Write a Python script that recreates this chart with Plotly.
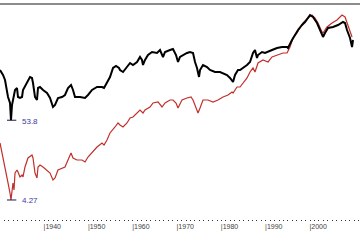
import math
import plotly.graph_objects as go

# Real (inflation-adjusted) index, black line
black_years = [1930.00, 1930.68, 1931.13, 1931.81, 1932.26, 1932.48, 1932.71, 1932.93, 1933.39, 1933.84,
               1934.06, 1934.51, 1934.97, 1935.19, 1936.09, 1936.77, 1937.22, 1937.45, 1937.90, 1938.35,
               1938.58, 1939.03, 1939.71, 1940.61, 1941.29, 1941.96, 1942.42, 1943.09, 1944.00, 1944.67,
               1945.35, 1946.03, 1946.48, 1946.93, 1948.06, 1949.19, 1949.86, 1950.77, 1951.90, 1953.02,
               1953.48, 1954.15, 1954.83, 1955.51, 1956.19, 1956.86, 1957.09, 1957.77, 1958.67, 1959.35,
               1960.02, 1960.93, 1961.60, 1962.05, 1962.28, 1962.73, 1963.41, 1964.31, 1965.44, 1966.12,
               1966.79, 1967.25, 1968.37, 1969.05, 1969.73, 1970.18, 1970.63, 1971.31, 1972.21, 1972.89,
               1973.57, 1974.02, 1974.47, 1974.92, 1975.15, 1975.82, 1976.73, 1977.40, 1978.53, 1979.66,
               1980.34, 1981.24, 1981.92, 1982.60, 1983.05, 1983.72, 1984.18, 1984.85, 1985.76, 1986.43,
               1987.11, 1987.56, 1988.01, 1988.24, 1989.14, 1989.82, 1990.50, 1991.40, 1992.53, 1993.66,
               1994.79, 1995.01, 1995.91, 1996.59, 1997.27, 1998.17, 1998.85, 1999.98, 2000.65, 2001.56,
               2002.24, 2002.91, 2003.36, 2004.04, 2005.17, 2006.30, 2007.43, 2007.88, 2008.33, 2009.01,
               2009.46, 2009.68]
black_values = [265.2, 226.2, 193.0, 112.5, 93.0, 53.8, 87.2, 102.3, 140.5, 149.7,
                112.5, 109.0, 112.5, 140.5, 181.2, 212.4, 205.7, 175.5, 112.5, 102.3,
                149.7, 154.5, 140.5, 127.8, 109.0, 81.9, 87.2, 109.0, 112.5, 119.9,
                149.7, 164.7, 140.5, 112.5, 112.5, 109.0, 119.9, 140.5, 154.5, 154.5,
                149.7, 175.5, 212.4, 282.6, 301.2, 282.6, 265.2, 248.9, 291.7, 331.3,
                310.9, 341.9, 400.7, 364.3, 310.9, 364.3, 427.0, 469.7, 455.1, 500.5,
                400.7, 469.7, 500.5, 516.7, 427.0, 341.9, 400.7, 427.0, 455.1, 469.7,
                455.1, 341.9, 282.6, 212.4, 265.2, 310.9, 291.7, 265.2, 248.9, 248.9,
                241.1, 226.2, 205.7, 181.2, 226.2, 265.2, 265.2, 282.6, 310.9, 341.9,
                455.1, 500.5, 388.3, 427.0, 469.7, 455.1, 469.7, 500.5, 533.3, 550.4,
                550.4, 533.3, 687.5, 806.2, 944.5, 1107.2, 1217.8, 1521.0, 1427.5, 1179.8,
                944.5, 756.6, 858.7, 1006.9, 1038.9, 1107.2, 1217.8, 1179.8, 944.5, 732.7,
                550.4, 687.5]

# Nominal index, red line
red_years = [1930.00, 1930.68, 1931.35, 1931.81, 1932.26, 1932.48, 1932.93, 1933.16, 1933.39, 1933.84,
             1934.06, 1934.51, 1934.97, 1935.19, 1935.64, 1936.32, 1937.22, 1937.45, 1937.90, 1938.35,
             1938.58, 1939.03, 1939.71, 1940.61, 1941.29, 1941.96, 1942.42, 1943.09, 1944.00, 1944.67,
             1945.35, 1946.03, 1946.48, 1947.38, 1948.51, 1949.19, 1949.86, 1950.77, 1951.90, 1953.02,
             1953.48, 1954.15, 1954.83, 1955.96, 1956.64, 1957.09, 1957.77, 1958.67, 1959.35, 1960.02,
             1960.93, 1961.60, 1962.28, 1962.73, 1963.86, 1964.54, 1965.67, 1966.57, 1967.25, 1968.37,
             1969.05, 1969.73, 1970.18, 1971.08, 1972.21, 1973.12, 1973.57, 1974.24, 1974.70, 1975.15,
             1975.82, 1976.95, 1978.08, 1979.21, 1980.34, 1981.47, 1982.37, 1982.60, 1983.50, 1984.18,
             1984.85, 1985.76, 1986.43, 1987.11, 1987.56, 1988.24, 1989.37, 1990.50, 1991.40, 1992.53,
             1993.88, 1994.79, 1995.46, 1996.14, 1997.04, 1997.72, 1998.40, 1999.53, 2000.43, 2001.11,
             2001.78, 2002.69, 2002.91, 2003.81, 2004.94, 2006.07, 2007.20, 2007.88, 2008.33, 2009.01,
             2009.46]
red_values = [26.10, 16.73, 11.07, 7.33, 5.33, 4.27, 7.33, 5.87, 10.06, 11.07,
              10.39, 8.87, 9.45, 8.87, 12.18, 16.21, 17.83, 16.21, 10.06, 8.59,
              12.18, 12.98, 12.18, 11.07, 10.06, 8.06, 8.59, 11.07, 11.80, 12.18,
              15.21, 19.00, 16.21, 15.21, 15.21, 14.28, 16.73, 19.61, 22.99, 26.10,
              24.50, 28.71, 35.86, 43.39, 49.27, 46.24, 43.39, 49.27, 57.73, 59.61,
              67.68, 74.43, 67.68, 74.43, 81.90, 92.96, 95.95, 81.90, 92.96, 102.3,
              102.3, 92.96, 79.34, 102.3, 109.0, 112.5, 102.3, 81.90, 67.68, 79.34,
              102.3, 102.3, 95.95, 102.3, 112.5, 119.9, 131.9, 127.8, 154.5, 154.5,
              175.5, 205.7, 248.9, 282.6, 248.9, 331.3, 364.3, 341.9, 400.7, 427.0,
              455.1, 455.1, 550.4, 732.7, 858.7, 1006.9, 1179.8, 1382.6, 1521.0, 1382.6,
              1179.8, 886.5, 858.7, 1038.9, 1179.8, 1297.7, 1521.0, 1427.5, 1179.8, 886.5,
              756.6]

tick_years = [1930, 1940, 1950, 1960, 1970, 1980, 1990, 2000, 2010]
tick_labels = ["", "|1940", "|1950", "|1960", "|1970", "|1980", "|1990", "|2000", "|2010"]

fig = go.Figure()
fig.add_trace(go.Scatter(x=red_years, y=red_values, mode="lines",
                         line=dict(color="#c0302a", width=1.2), hoverinfo="skip"))
fig.add_trace(go.Scatter(x=black_years, y=black_values, mode="lines",
                         line=dict(color="#000000", width=2), hoverinfo="skip"))

# minimum markers and labels
for yrs, vals in ((black_years, black_values), (red_years, red_values)):
    i = vals.index(min(vals))
    fig.add_shape(type="line", xref="x", yref="y", x0=yrs[i] - 0.9, x1=yrs[i] + 1.2,
                  y0=vals[i], y1=vals[i], line=dict(color="#1a1a4a", width=1))
    fig.add_annotation(x=yrs[i] + 2.0, y=math.log10(vals[i]), xref="x", yref="y",
                       text=str(vals[i]), showarrow=False, xanchor="left", yanchor="middle",
                       yshift=-1,
                       font=dict(family="Liberation Sans", size=8, color="#3a3aa0"))

fig.add_shape(type="line", xref="paper", yref="paper", x0=0, x1=1, y0=1, y1=1,
              line=dict(color="#666666", width=1.5))

fig.update_layout(
    width=360, height=240, margin=dict(l=0, r=0, t=4, b=19),
    paper_bgcolor="white", plot_bgcolor="white", showlegend=False,
    xaxis=dict(range=[1930.0, 2011.26], showgrid=False, zeroline=False, showline=False,
               tickvals=tick_years, ticktext=tick_labels, ticks="inside", ticklen=1,
               tickcolor="#333333", tickwidth=1, ticklabelshift=8, ticklabelstandoff=0,
               tickfont=dict(family="Liberation Sans", size=7, color="#444444"),
               minor=dict(dtick=1, tick0=1930, ticks="inside", ticklen=1, tickwidth=1,
                          tickcolor="#333333")),
    yaxis=dict(type="log", range=[0.3407, 3.3338], visible=False, showgrid=False),
)

fig.write_html("out.html")
